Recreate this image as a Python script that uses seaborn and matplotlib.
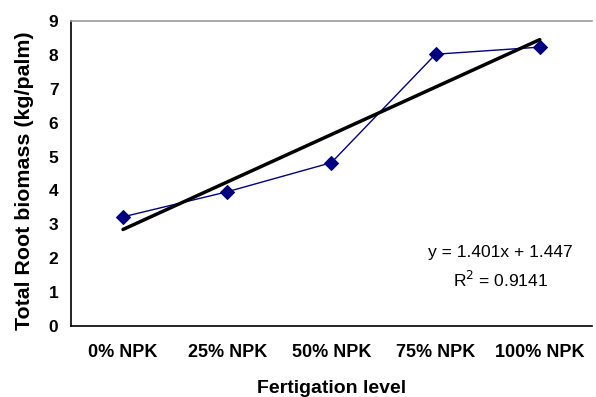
import matplotlib
matplotlib.use("Agg")
import matplotlib.pyplot as plt
import seaborn as sns
import numpy as np
import pandas as pd

categories = ["0% NPK", "25% NPK", "50% NPK", "75% NPK", "100% NPK"]
biomass = [3.22, 3.96, 4.82, 8.02, 8.23]
trend_slope = 1.401
trend_intercept = 1.447
y_ticks = [0, 1, 2, 3, 4, 5, 6, 7, 8, 9]

sns.set_style("white")
plt.rcParams['font.family'] = ['Liberation Sans', 'DejaVu Sans']
plt.rcParams['text.color'] = 'black'
plt.rcParams['axes.labelcolor'] = 'black'
plt.rcParams['xtick.color'] = 'black'
plt.rcParams['ytick.color'] = 'black'

fig = plt.figure(figsize=(5.96, 3.97), dpi=100)
ax = fig.add_axes([0.119, 0.179, 0.874, 0.768])

pos = np.arange(len(categories))
df = pd.DataFrame({"pos": pos, "biomass": biomass})
trend_x = np.arange(1, len(categories) + 1)
df["trend"] = trend_slope * trend_x + trend_intercept

sns.lineplot(data=df, x="pos", y="biomass", ax=ax, color="#000080", lw=1.0,
             marker="D", markersize=7, markeredgecolor="#000080")
sns.lineplot(data=df, x="pos", y="trend", ax=ax, color="black", lw=2.5)

ax.set_xlim(-0.5, len(categories) - 0.5)
ax.set_ylim(0, 9)
ax.set_yticks(y_ticks)
ax.set_yticklabels([str(t) for t in y_ticks])
ax.set_xticks(np.arange(-0.5, len(categories), 1.0))
ax.set_xticklabels([])
ax.set_xticks(pos, minor=True)
ax.set_xticklabels(categories, minor=True)
for lab in ax.get_xticklabels(minor=True):
    lab.set_fontweight("bold")
    lab.set_fontsize(13)
for lab in ax.get_yticklabels():
    lab.set_fontweight("bold")
    lab.set_fontsize(12.5)
ax.tick_params(axis="x", which="minor", length=0, pad=13)
ax.tick_params(axis="x", which="major", length=5, width=1, direction="out", color="black")
ax.tick_params(axis="y", length=5, width=1, direction="out", color="black", pad=4)

ax.set_xlabel("Fertigation level", fontsize=14, fontweight="bold", labelpad=14)
ax.set_ylabel("Total Root biomass (kg/palm)", fontsize=15.4, fontweight="bold")
ax.yaxis.set_label_coords(-0.070, 0.478)

for s in ["left", "bottom"]:
    ax.spines[s].set_color("black")
    ax.spines[s].set_linewidth(1.2)
ax.spines["top"].set_color("#999999")
ax.spines["top"].set_linewidth(1.2)
ax.spines["right"].set_visible(False)

ax.text(3.62, 2.17, "y = 1.401x + 1.447", fontsize=12.5, ha="center", va="center")
ax.text(3.62, 1.37, "R$^{2}$ = 0.9141", fontsize=12.5, ha="center", va="center")

fig.savefig("out.png", dpi=100)
